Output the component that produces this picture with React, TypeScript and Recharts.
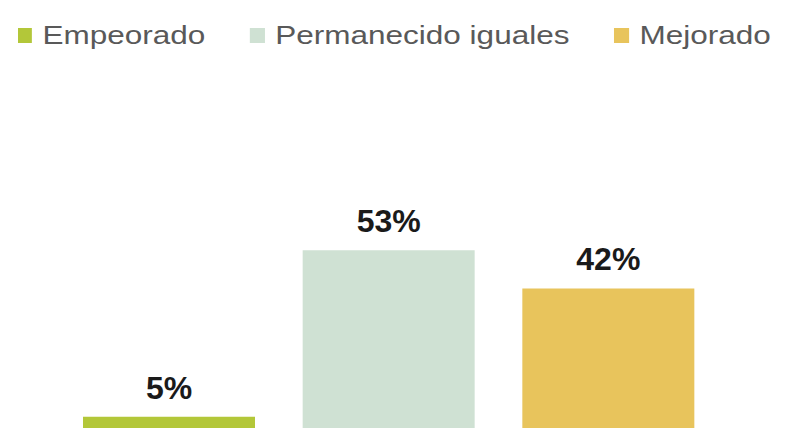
import React from 'react';
import { BarChart, Bar, XAxis, YAxis, Cell, LabelList, Legend } from 'recharts';

const categories = ['Empeorado', 'Permanecido iguales', 'Mejorado'];
const values = [5, 53, 42];
const colors = ['#b3c739', '#cfe1d3', '#e8c45c'];

const data = categories.map((name, i) => ({ name, value: values[i] }));

const FONT = '"Liberation Sans", Arial, sans-serif';

// the legend text in the source is horizontally stretched, so scale the row
const STRETCH = 1.26;

const renderLegend = () => (
    <div
        style={{
            display: 'flex',
            justifyContent: 'center',
            alignItems: 'center',
            gap: 45 / STRETCH,
            height: 30,
            transform: `scaleX(${STRETCH})`,
            transformOrigin: '396px 0',
        }}
    >
        {categories.map((name, i) => (
            <div key={name} style={{ display: 'flex', alignItems: 'center' }}>
                <span style={{ width: 15 / STRETCH, height: 15, background: colors[i], marginRight: 10 / STRETCH, display: 'inline-block' }} />
                <span style={{ fontFamily: FONT, fontSize: 25, lineHeight: '30px', color: '#595959', whiteSpace: 'nowrap' }}>
                    {name}
                </span>
            </div>
        ))}
    </div>
);

export default function App() {
    return (
        <div style={{ position: 'absolute', left: 0, top: 0, width: 789, height: 428, overflow: 'hidden', background: '#fff' }}>
            <BarChart width={789} height={440} data={data} margin={{ top: 226, right: 71, bottom: 6, left: 59 }}>
                <XAxis dataKey="name" hide />
                <YAxis hide domain={[0, 60]} />
                <Legend
                    verticalAlign="middle"
                    align="center"
                    content={renderLegend}
                    wrapperStyle={{ top: 20, left: 0, width: 789 }}
                />
                <Bar dataKey="value" barSize={172} isAnimationActive={false}>
                    {data.map((d, i) => (
                        <Cell key={d.name} fill={colors[i]} />
                    ))}
                    <LabelList
                        dataKey="value"
                        position="top"
                        offset={18}
                        formatter={(v: number) => `${v}%`}
                        style={{ fontFamily: FONT, fontSize: 32, fontWeight: 'bold', fill: '#1a1a1a' }}
                    />
                </Bar>
            </BarChart>
        </div>
    );
}
